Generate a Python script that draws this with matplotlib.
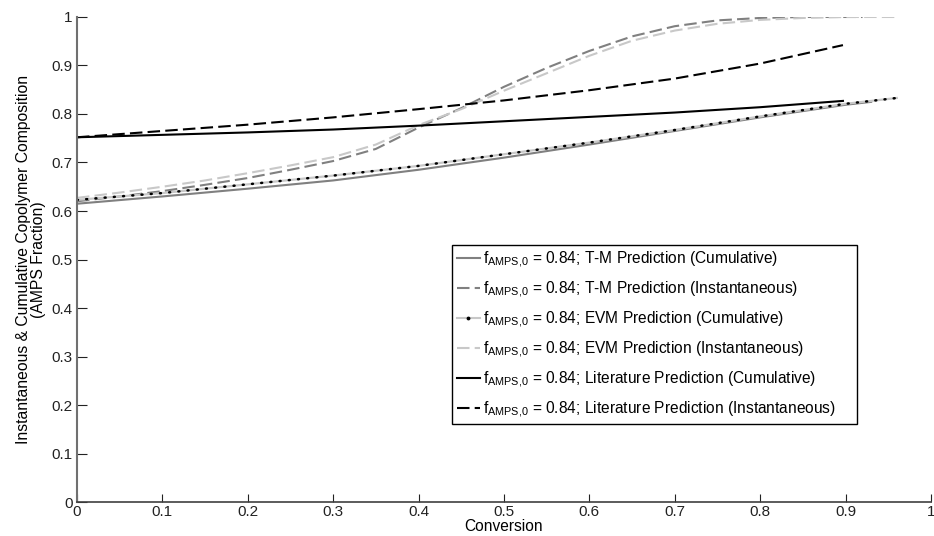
import matplotlib
matplotlib.use('Agg')
import matplotlib.pyplot as plt
from matplotlib.lines import Line2D
import numpy as np

plt.rcParams['font.family'] = ['Liberation Sans', 'DejaVu Sans']
plt.rcParams['mathtext.fontset'] = 'custom'
plt.rcParams['mathtext.rm'] = 'Liberation Sans'

# conversion grids
x_inst_tm = [0, 0.05, 0.1, 0.15, 0.2, 0.25, 0.3, 0.35, 0.4, 0.45, 0.5, 0.55,
             0.6, 0.65, 0.7, 0.75, 0.8, 0.85, 0.9, 0.92]
y_inst_tm = [0.620, 0.630, 0.641, 0.654, 0.668, 0.685, 0.703, 0.728, 0.772, 0.812,
             0.856, 0.895, 0.930, 0.960, 0.981, 0.993, 0.998, 1.0, 1.0, 1.0]

x_inst_evm = [0, 0.05, 0.1, 0.15, 0.2, 0.25, 0.3, 0.35, 0.4, 0.45, 0.5, 0.55,
              0.6, 0.65, 0.7, 0.75, 0.8, 0.85, 0.9, 0.96]
y_inst_evm = [0.627, 0.638, 0.650, 0.663, 0.678, 0.694, 0.711, 0.737, 0.777, 0.810,
              0.848, 0.884, 0.920, 0.951, 0.972, 0.986, 0.994, 0.998, 1.0, 1.0]

x_cum_tm = [0, 0.1, 0.2, 0.3, 0.4, 0.5, 0.6, 0.7, 0.8, 0.9, 0.93]
y_cum_tm = [0.615, 0.630, 0.646, 0.663, 0.685, 0.710, 0.737, 0.765, 0.793, 0.819, 0.825]

x_cum_evm = [0, 0.1, 0.2, 0.3, 0.4, 0.5, 0.6, 0.7, 0.8, 0.9, 0.96]
y_cum_evm = [0.623, 0.637, 0.655, 0.673, 0.693, 0.717, 0.741, 0.767, 0.795, 0.821, 0.833]

x_lit = [0, 0.1, 0.2, 0.3, 0.4, 0.5, 0.6, 0.7, 0.8, 0.897]
y_cum_lit = [0.752, 0.757, 0.762, 0.768, 0.776, 0.785, 0.794, 0.803, 0.814, 0.827]
y_inst_lit = [0.752, 0.765, 0.778, 0.793, 0.810, 0.828, 0.849, 0.873, 0.904, 0.942]

ticks = np.round(np.arange(0, 1.01, 0.1), 1)
tick_labels = ['0', '0.1', '0.2', '0.3', '0.4', '0.5', '0.6', '0.7', '0.8', '0.9', '1']

prefix = r'$\mathregular{f_{AMPS{,}0}}$ = 0.84; '
labels = [prefix + 'T-M Prediction (Cumulative)',
          prefix + 'T-M Prediction (Instantaneous)',
          prefix + 'EVM Prediction (Cumulative)',
          prefix + 'EVM Prediction (Instantaneous)',
          prefix + 'Literature Prediction (Cumulative)',
          prefix + 'Literature Prediction (Instantaneous)']

dark_gray = '#808080'
light_gray = '#c8c8c8'
dash = (0, (6, 2.5))

fig = plt.figure(figsize=(9.34, 5.36), dpi=100)
ax = fig.add_axes([0.0824, 0.0634, 0.9143, 0.9049])

h1, = ax.plot(x_cum_tm, y_cum_tm, color=dark_gray, lw=1.5)
h2, = ax.plot(x_inst_tm, y_inst_tm, color=dark_gray, lw=1.5, linestyle=dash)
ax.plot(x_cum_evm, y_cum_evm, color=light_gray, lw=1.6)
ax.plot(x_cum_evm, y_cum_evm, color='black', lw=1.8,
        linestyle=(0, (0.4, 3.3)), dash_capstyle='round')
h4, = ax.plot(x_inst_evm, y_inst_evm, color=light_gray, lw=1.5, linestyle=dash)
h5, = ax.plot(x_lit, y_cum_lit, color='black', lw=1.5)
h6, = ax.plot(x_lit, y_inst_lit, color='black', lw=1.5, linestyle=dash)

h3 = Line2D([], [], color=light_gray, lw=1.5, marker='.', markersize=3.5,
            markerfacecolor='black', markeredgecolor='black')

leg = ax.legend([h1, h2, h3, h4, h5, h6], labels, loc='upper left',
                bbox_to_anchor=(0.439, 0.153, 0.474, 0.377), mode='expand',
                fontsize=11.2, handlelength=1.5, handletextpad=0.2,
                borderaxespad=0, fancybox=False, framealpha=1,
                labelspacing=0.62, borderpad=0.3)
leg.get_frame().set_edgecolor('black')
leg.get_frame().set_linewidth(1.0)

ax.set_xlim(0, 1)
ax.set_ylim(0, 1)
ax.set_xticks(ticks)
ax.set_xticklabels(tick_labels)
ax.set_yticks(ticks)
ax.set_yticklabels(tick_labels)
ax.tick_params(direction='in', width=0.8, labelsize=11,
               colors='#222222', pad=3)
ax.tick_params(axis='y', length=7)
ax.tick_params(axis='x', length=6, pad=2)
ax.spines['top'].set_visible(False)
ax.spines['right'].set_visible(False)
ax.spines['left'].set_color('#707070')
ax.spines['left'].set_linewidth(1.5)
ax.spines['bottom'].set_color('#404040')
ax.spines['bottom'].set_linewidth(1.2)

ax.set_xlabel('Conversion', fontsize=11.2, labelpad=0)
ax.set_ylabel('Instantaneous & Cumulative Copolymer Composition\n(AMPS Fraction)',
              fontsize=11.3, labelpad=4, linespacing=1.05)

fig.savefig('out.png', dpi=100, facecolor='white')
